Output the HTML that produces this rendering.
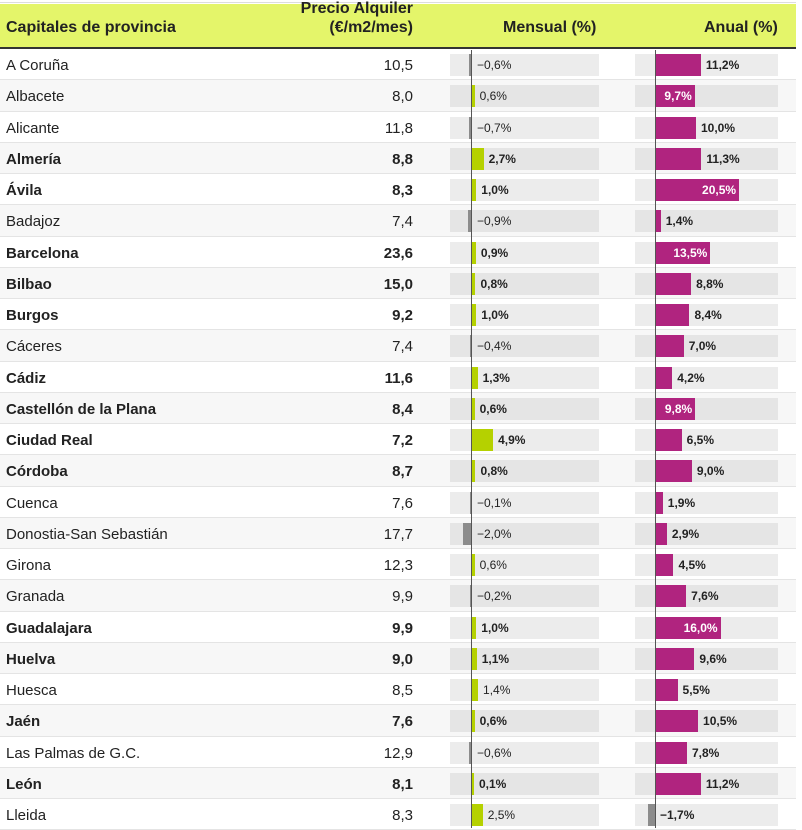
<!DOCTYPE html><html><head><meta charset="utf-8"><style>
body{margin:0;width:802px;height:828px;overflow:hidden;background:#fff;font-family:"Liberation Sans",Roboto,sans-serif;color:#222;position:relative}
.a{position:absolute}
.hd{font-weight:bold;font-size:16px;color:#222}
.row{position:absolute;left:0;width:796px;height:30.25px;border-bottom:1px solid #e4e4e4}
.t{position:absolute;white-space:nowrap}
</style></head><body>
<div class="a" style="left:0;top:2px;width:796px;height:1px;background:#ddd"></div>
<div class="a" style="left:0;top:4px;width:796px;height:44px;background:#e4f56a"></div>
<div class="a" style="left:0;top:47px;width:796px;height:2px;background:#333"></div>
<div class="a hd" style="left:6px;top:19px">Capitales de provincia</div>
<div class="a hd" style="right:389px;top:-1px;text-align:right;line-height:19px">Precio Alquiler<br>(€/m2/mes)</div>
<div class="a hd" style="left:503px;top:19px">Mensual (%)</div>
<div class="a hd" style="left:704px;top:19px">Anual (%)</div>
<div id="c"></div>
<script>
var d=[["A Coruña","10,5",-0.6,11.2,0,0],["Albacete","8,0",0.6,9.7,0,1],["Alicante","11,8",-0.7,10.0,0,0],["Almería","8,8",2.7,11.3,1,0],["Ávila","8,3",1.0,20.5,1,1],["Badajoz","7,4",-0.9,1.4,0,0],["Barcelona","23,6",0.9,13.5,1,1],["Bilbao","15,0",0.8,8.8,1,0],["Burgos","9,2",1.0,8.4,1,0],["Cáceres","7,4",-0.4,7.0,0,0],["Cádiz","11,6",1.3,4.2,1,0],["Castellón de la Plana","8,4",0.6,9.8,1,1],["Ciudad Real","7,2",4.9,6.5,1,0],["Córdoba","8,7",0.8,9.0,1,0],["Cuenca","7,6",-0.1,1.9,0,0],["Donostia-San Sebastián","17,7",-2.0,2.9,0,0],["Girona","12,3",0.6,4.5,0,0],["Granada","9,9",-0.2,7.6,0,0],["Guadalajara","9,9",1.0,16.0,1,1],["Huelva","9,0",1.1,9.6,1,0],["Huesca","8,5",1.4,5.5,0,0],["Jaén","7,6",0.6,10.5,1,0],["Las Palmas de G.C.","12,9",-0.6,7.8,0,0],["León","8,1",0.1,11.2,1,0],["Lleida","8,3",2.5,-1.7,0,0]];
var h="";
function f(v){return (v<0?"−":"")+Math.abs(v).toFixed(1).replace(".",",")+"%";}
d.forEach(function(r,i){
var y=49+i*31.25,bg=i%2?"#f7f7f7":"#fff",tr=i%2?"#e5e5e5":"#ececec",w=r[4]?"bold":"normal";
h+='<div class="row" style="top:'+y+'px;background:'+bg+'"></div>';
var cy=y+16;
h+='<div class="t" style="left:6px;top:'+(cy-8)+'px;font-size:15px;font-weight:'+w+'">'+r[0]+'</div>';
h+='<div class="t" style="right:389px;top:'+(cy-8)+'px;font-size:15px;font-weight:'+w+'">'+r[1]+'</div>';
h+='<div class="t" style="left:450px;top:'+(cy-11)+'px;width:149px;height:22px;background:'+tr+'"></div>';
h+='<div class="t" style="left:635px;top:'+(cy-11)+'px;width:143px;height:22px;background:'+tr+'"></div>';
var m=r[2],mw=Math.max(2,Math.abs(m)*4.3),mx=m<0?472-mw:472;
h+='<div class="t" style="left:'+mx+'px;top:'+(cy-11)+'px;width:'+mw+'px;height:22px;background:'+(m<0?'#8c8c8c':'#b5d100')+'"></div>';
var lx=(m<0?472:472+mw)+5;
h+='<div class="t" style="left:'+lx+'px;top:'+(cy-7)+'px;font-size:12px;font-weight:'+w+'">'+f(m)+'</div>';
var a=r[3],aw=Math.abs(a)*4.1,ax=a<0?655-aw:655;
h+='<div class="t" style="left:'+ax+'px;top:'+(cy-11)+'px;width:'+aw+'px;height:22px;background:'+(a<0?'#8c8c8c':'#b0247f')+'"></div>';
if(r[5]){h+='<div class="t" style="right:'+(802-(655+aw)+3)+'px;top:'+(cy-7)+'px;font-size:12px;font-weight:bold;color:#fff">'+f(a)+'</div>';}
else{var bx=(a<0?655:655+aw)+5;h+='<div class="t" style="left:'+bx+'px;top:'+(cy-7)+'px;font-size:12px;font-weight:bold">'+f(a)+'</div>';}
});
h+='<div class="t" style="left:471px;top:50px;width:1px;height:778px;background:#555"></div>';
h+='<div class="t" style="left:655px;top:50px;width:1px;height:778px;background:#555"></div>';
document.getElementById("c").innerHTML=h;
</script>
</body></html>
